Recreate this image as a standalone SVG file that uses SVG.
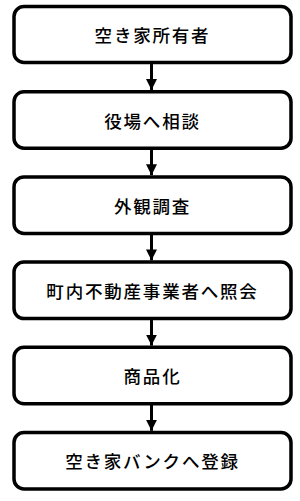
<svg xmlns="http://www.w3.org/2000/svg" width="300" height="501" viewBox="0 0 300 501">
<style>
.box{fill:#fff;stroke:#000;stroke-width:3.5}
.lbl{font-family:"Noto Sans CJK JP","Noto Sans CJK SC",sans-serif;font-size:17.5px;letter-spacing:1.8px;fill:#000;text-anchor:middle;dominant-baseline:central;font-weight:500}
.con{stroke:#000;stroke-width:3;fill:none}
</style>
<defs>
<marker id="ah" markerWidth="11" markerHeight="13" refX="11" refY="5.5" orient="auto" markerUnits="userSpaceOnUse" viewBox="0 0 11 11">
<path d="M0,0 L11,5.5 L0,11 Z" fill="#000"/>
</marker>
</defs>
<g id="connectors">
<line class="con" x1="151.5" y1="63" x2="151.5" y2="90" marker-end="url(#ah)"/>
<line class="con" x1="151.5" y1="148.2" x2="151.5" y2="175.2" marker-end="url(#ah)"/>
<line class="con" x1="151.5" y1="233.4" x2="151.5" y2="260.4" marker-end="url(#ah)"/>
<line class="con" x1="151.5" y1="318.6" x2="151.5" y2="345.6" marker-end="url(#ah)"/>
<line class="con" x1="151.5" y1="403.8" x2="151.5" y2="430.8" marker-end="url(#ah)"/>
</g>
<g id="n1"><rect class="box" x="14" y="6.5" width="277" height="56" rx="10"/><text class="lbl" x="152.5" y="34.5">空き家所有者</text></g>
<g id="n2"><rect class="box" x="14" y="91.7" width="277" height="56.5" rx="10"/><text class="lbl" x="152.5" y="120">役場へ相談</text></g>
<g id="n3"><rect class="box" x="14" y="176.9" width="277" height="56.5" rx="10"/><text class="lbl" x="152.5" y="205.2">外観調査</text></g>
<g id="n4"><rect class="box" x="14" y="262.1" width="277" height="56.5" rx="10"/><text class="lbl" x="152.5" y="290.4">町内不動産事業者へ照会</text></g>
<g id="n5"><rect class="box" x="14" y="347.3" width="277" height="56.5" rx="10"/><text class="lbl" x="152.5" y="375.6">商品化</text></g>
<g id="n6"><rect class="box" x="14" y="432.5" width="277" height="56.5" rx="10"/><text class="lbl" x="152.5" y="460.8">空き家バンクへ登録</text></g>
</svg>
